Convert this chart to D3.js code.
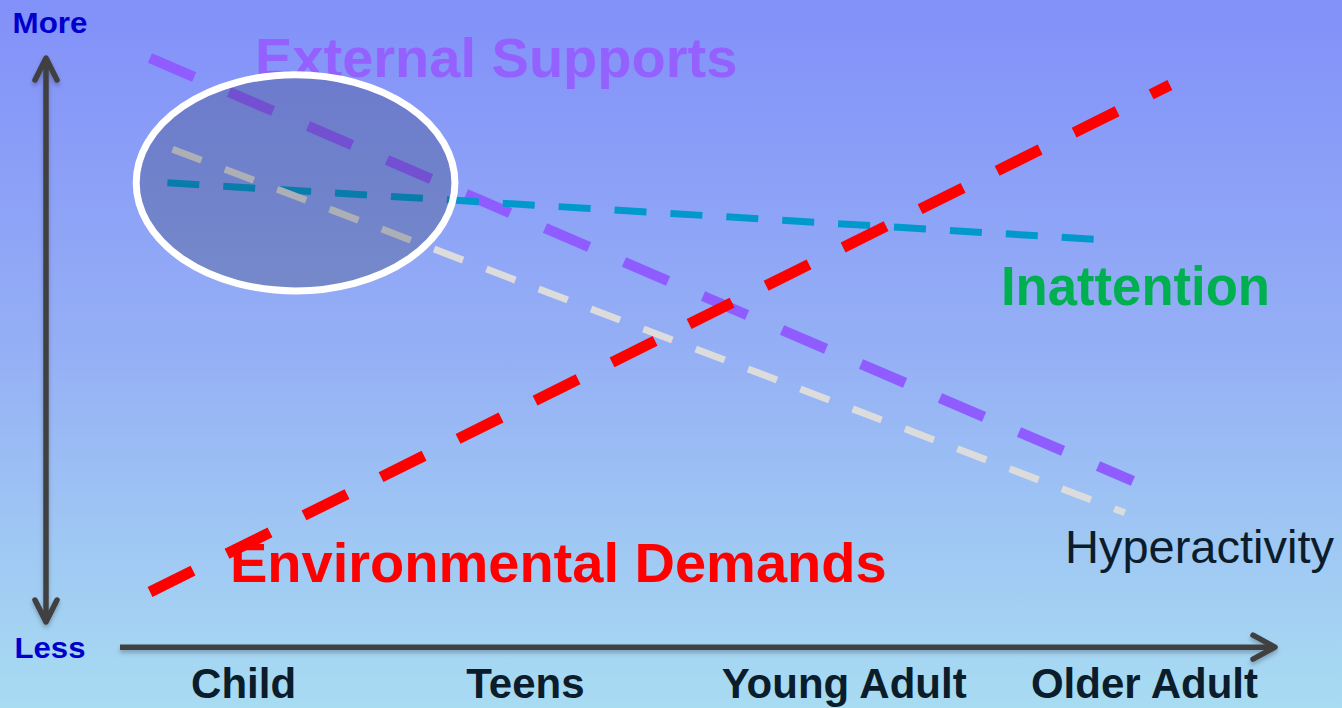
<!DOCTYPE html>
<html>
<head>
<meta charset="utf-8">
<script src="https://cdn.jsdelivr.net/npm/d3@7"></script>
<style>
  html, body { margin: 0; padding: 0; overflow: hidden; }
  svg { display: block; }
  text { font-family: "Liberation Sans", Arial, sans-serif; }
</style>
</head>
<body>
<svg id="chart" width="1342" height="708"></svg>
<script>
// ---- data ----
const categories = ["Child", "Teens", "Young Adult", "Older Adult"];
const categoryStage = [1.07, 3.51, 6.27, 8.87];          // where each life stage sits on the age axis (0-10)
const seriesNames = ["External Supports", "Inattention", "Hyperactivity", "Environmental Demands"];
const seriesStages = [[0.26, 8.77], [0.41, 8.43], [0.455, 8.70], [0.26, 9.09]];  // start / end stage
const seriesLevels = [[9.70, 2.65], [7.62, 6.68], [8.18, 2.12], [0.80, 9.25]];  // level (0 = less, 10 = more)
const yEndLabels = ["More", "Less"];

// ---- style ----
const styles = {
  "External Supports":     { color: "#8f5cff", width: 10.5, dash: "48 38" },
  "Inattention":           { color: "#0099cc", width: 7,    dash: "32 24" },
  "Hyperactivity":         { color: "#dcdcdc", width: 7,    dash: "31 25" },
  "Environmental Demands": { color: "#ff0000", width: 11,   dash: "48 38" }
};

const svg = d3.select("#chart");
const W = 1342, H = 708;

const x = d3.scaleLinear().domain([0, 10]).range([120, 1275]);
const y = d3.scaleLinear().domain([0, 10]).range([640, 40]);

const defs = svg.append("defs");
const grad = defs.append("linearGradient").attr("id", "bg").attr("x1", 0).attr("y1", 0).attr("x2", 0).attr("y2", 1);
grad.append("stop").attr("offset", "0%").attr("stop-color", "#8290f9");
grad.append("stop").attr("offset", "50%").attr("stop-color", "#95b0f5");
grad.append("stop").attr("offset", "100%").attr("stop-color", "#a8dcf2");

const sh = defs.append("filter").attr("id", "shadow").attr("x", "-10%").attr("y", "-10%").attr("width", "120%").attr("height", "130%");
sh.append("feDropShadow").attr("dx", 0).attr("dy", 3).attr("stdDeviation", 2).attr("flood-color", "#000").attr("flood-opacity", 0.25);

svg.append("rect").attr("width", W).attr("height", H).attr("fill", "url(#bg)");

// ---- axes ----
const axisColor = "#404040";
const axG = svg.append("g").attr("filter", "url(#shadow)")
  .attr("stroke", axisColor).attr("stroke-width", 5.5).attr("fill", "none")
  .attr("stroke-linecap", "round").attr("stroke-linejoin", "round");

const xAxisY = y(-0.12);
const x0 = x(0), x1 = x(10);
axG.append("line").attr("x1", x0).attr("y1", xAxisY).attr("x2", x1 - 2).attr("y2", xAxisY).attr("stroke-linecap", "butt");
axG.append("path").attr("d", `M${x1 - 22},${xAxisY - 12} L${x1},${xAxisY} L${x1 - 22},${xAxisY + 12}`);

const yAxisX = 46;
const yTop = y(9.7), yBot = y(0.3);
axG.append("line").attr("x1", yAxisX).attr("y1", yTop + 2).attr("x2", yAxisX).attr("y2", yBot - 2).attr("stroke-linecap", "butt");
axG.append("path").attr("d", `M${yAxisX - 11},${yTop + 22} L${yAxisX},${yTop} L${yAxisX + 11},${yTop + 22}`);
axG.append("path").attr("d", `M${yAxisX - 11},${yBot - 22} L${yAxisX},${yBot} L${yAxisX + 11},${yBot - 22}`);

// y end labels
svg.append("text").attr("x", 50).attr("y", 33).attr("text-anchor", "middle")
  .attr("font-size", 30).attr("font-weight", "bold").attr("fill", "#0000cc").attr("textLength", 75).attr("lengthAdjust", "spacingAndGlyphs")
  .text(yEndLabels[0]);
svg.append("text").attr("x", 50).attr("y", 658).attr("text-anchor", "middle")
  .attr("font-size", 30).attr("font-weight", "bold").attr("fill", "#0000cc").attr("textLength", 71).attr("lengthAdjust", "spacingAndGlyphs")
  .text(yEndLabels[1]);

// category labels
svg.append("g").selectAll("text").data(categories).join("text")
  .attr("x", (d, i) => x(categoryStage[i]))
  .attr("y", 698)
  .attr("text-anchor", "middle")
  .attr("font-size", 42).attr("font-weight", "bold").attr("fill", "#0b1c2b")
  .text(d => d);

// ---- series lines ----
const line = d3.line().x(d => x(d[0])).y(d => y(d[1]));
const seriesData = seriesNames.map((name, i) => ({
  name,
  pts: seriesStages[i].map((s, j) => [s, seriesLevels[i][j]])
}));
svg.append("g").selectAll("path").data(seriesData).join("path")
  .attr("d", d => line(d.pts))
  .attr("fill", "none")
  .attr("stroke", d => styles[d.name].color)
  .attr("stroke-width", d => styles[d.name].width)
  .attr("stroke-dasharray", d => styles[d.name].dash)
  .attr("stroke-linecap", "butt");

// ---- series labels ----
svg.append("text").attr("x", 255).attr("y", 77)
  .attr("font-size", 56).attr("font-weight", "bold").attr("fill", "#9461ff")
  .text("External Supports");
svg.append("text").attr("x", 230).attr("y", 582)
  .attr("font-size", 56).attr("font-weight", "bold").attr("fill", "#ff0000")
  .text("Environmental Demands");
svg.append("text").attr("x", 1001).attr("y", 305)
  .attr("font-size", 55).attr("font-weight", "bold").attr("fill", "#00b050")
  .attr("textLength", 269).attr("lengthAdjust", "spacingAndGlyphs")
  .text("Inattention");
svg.append("text").attr("x", 1065).attr("y", 563)
  .attr("font-size", 47).attr("fill", "#0b1c2b")
  .text("Hyperactivity");

// ---- highlight ellipse (childhood) ----
svg.append("ellipse")
  .attr("cx", (x(0.11) + x(2.93)) / 2)
  .attr("cy", (y(9.48) + y(5.76)) / 2)
  .attr("rx", (x(2.93) - x(0.11)) / 2 - 3.5)
  .attr("ry", (y(5.76) - y(9.48)) / 2 - 3.5)
  .attr("fill", "rgba(30,40,70,0.25)")
  .attr("stroke", "#ffffff")
  .attr("stroke-width", 7);
</script>
</body>
</html>
